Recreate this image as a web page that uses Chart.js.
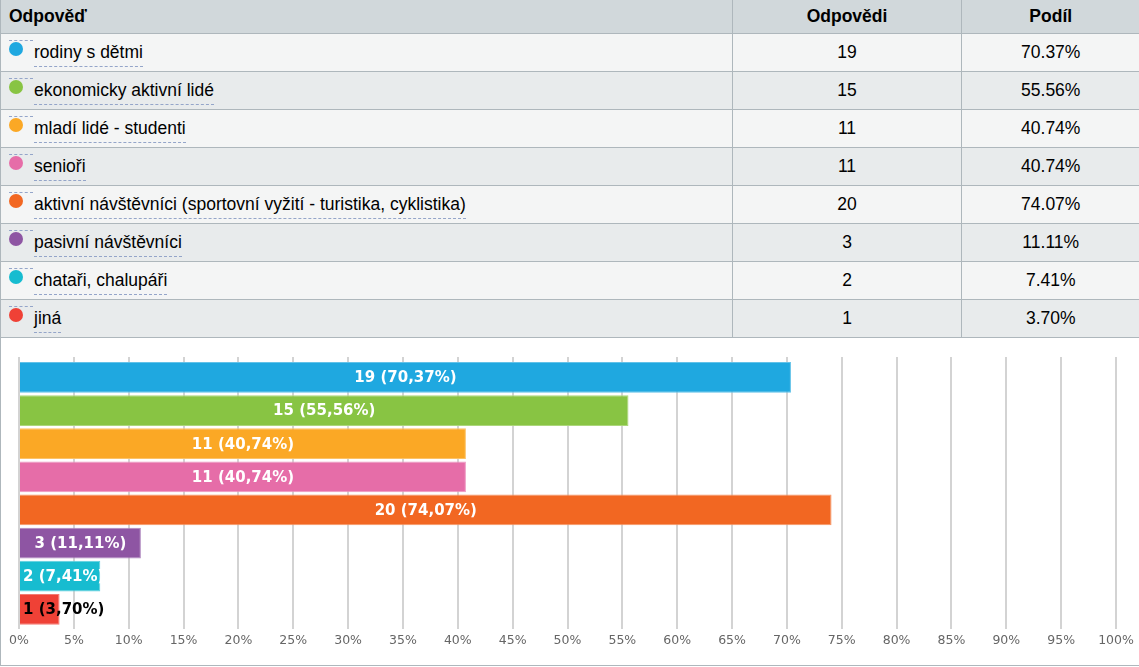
<!DOCTYPE html>
<html lang="cs">
<head>
<meta charset="utf-8">
<title>Odpovědi</title>
<script src="https://cdn.jsdelivr.net/npm/chart.js@4/dist/chart.umd.min.js"></script>
<style>
  body { margin: 0; background: #fff; font-family: "Liberation Sans", Arial, sans-serif; }
  #wrap { width: 1139px; overflow: hidden; }
  table { border-collapse: collapse; width: 1139px; table-layout: fixed; font-size: 17.5px; color: #000; }
  th, td { border: 1px solid #aeb7bc; padding: 0 8px; box-sizing: border-box; }
  th { background: #d1d8db; height: 33px; font-weight: bold; border-top: none; text-align: center; }
  th:first-child { text-align: left; }
  td { height: 38px; text-align: center; position: relative; }
  tbody tr:nth-child(odd) td { background: #f4f5f5; }
  tbody tr:nth-child(even) td { background: #e8ebec; }
  th:last-child, td:last-child { border-right: none; }
  td.name { text-align: left; padding-left: 33px; }
  .dot { position: absolute; left: 8px; top: 8px; width: 14px; height: 14px; border-radius: 50%; }
  .dash { position: absolute; left: 8px; top: 6px; width: 24px; border-top: 1px dashed #94a5c9; }
  .txt { border-bottom: 1px dashed #94a5c9; padding-bottom: 4px; }
  #chartBox { position: relative; height: 327px; border-left: 1px solid #aeb7bc; border-bottom: 1px solid #aeb7bc; }
</style>
</head>
<body>
<div id="wrap">
  <table>
    <colgroup><col style="width:732px"><col style="width:229px"><col style="width:178px"></colgroup>
    <thead><tr><th>Odpověď</th><th>Odpovědi</th><th>Podíl</th></tr></thead>
    <tbody id="rows"></tbody>
  </table>
  <div id="chartBox"><canvas id="answerChart"></canvas></div>
</div>
<script>
const categories = [
  "rodiny s dětmi",
  "ekonomicky aktivní lidé",
  "mladí lidé - studenti",
  "senioři",
  "aktivní návštěvníci (sportovní vyžití - turistika, cyklistika)",
  "pasivní návštěvníci",
  "chataři, chalupáři",
  "jiná",
];
const counts = [19, 15, 11, 11, 20, 3, 2, 1];
const shares = [70.37, 55.56, 40.74, 40.74, 74.07, 11.11, 7.41, 3.70];
const xTicks = [0, 5, 10, 15, 20, 25, 30, 35, 40, 45, 50, 55, 60, 65, 70, 75, 80, 85, 90, 95, 100];
const colors = ["#1fa8e0", "#88c443", "#fba825", "#e66da8", "#f26722", "#8e55a3", "#17bcd0", "#ef4136"];

// lighter edge for the bars
const lighten = (hex, k) => {
  const n = parseInt(hex.slice(1), 16);
  const c = [n >> 16, (n >> 8) & 255, n & 255].map((v) => Math.round(v + (255 - v) * k));
  return `rgb(${c.join(",")})`;
};

document.addEventListener("DOMContentLoaded", () => {
  // table
  const tbody = document.getElementById("rows");
  categories.forEach((name, i) => {
    const tr = document.createElement("tr");
    tr.innerHTML =
      `<td class="name"><span class="dash"></span><span class="dot" style="background:${colors[i]}"></span>` +
      `<span class="txt">${name}</span></td>` +
      `<td>${counts[i]}</td><td>${shares[i].toFixed(2)}%</td>`;
    tbody.appendChild(tr);
  });

  // value labels on bars
  const barLabels = {
    id: "barLabels",
    afterDatasetsDraw(chart) {
      const { ctx } = chart;
      const meta = chart.getDatasetMeta(0);
      ctx.save();
      ctx.font = 'bold 15px "DejaVu Sans"';
      ctx.textBaseline = "middle";
      meta.data.forEach((bar, i) => {
        const text = `${counts[i]} (${shares[i].toFixed(2).replace(".", ",")}%)`;
        const w = ctx.measureText(text).width;
        const barW = bar.x - bar.base;
        if (w + 10 <= barW) {
          ctx.textAlign = "center";
          ctx.fillStyle = "#fff";
          ctx.fillText(text, (bar.x + bar.base) / 2, bar.y + 1);
        } else {
          ctx.textAlign = "left";
          ctx.fillStyle = barW > w * 0.9 ? "#fff" : "#000";
          ctx.fillText(text, bar.base + 3, bar.y + 1);
        }
      });
      ctx.restore();
    },
  };

  const scaleCommon = {
    min: 0,
    max: 100,
    afterBuildTicks: (axis) => {
      axis.ticks = xTicks.map((v) => ({ value: v }));
    },
  };

  new Chart(document.getElementById("answerChart"), {
    type: "bar",
    data: {
      labels: categories,
      datasets: [
        {
          data: shares,
          backgroundColor: colors,
          borderColor: colors.map((c) => lighten(c, 0.3)),
          borderWidth: 1,
          barPercentage: 0.93,
          categoryPercentage: 1,
        },
      ],
    },
    options: {
      indexAxis: "y",
      responsive: true,
      maintainAspectRatio: false,
      animation: false,
      layout: { padding: { left: 18, right: 23, top: 18.9, bottom: 12.1 } },
      plugins: { legend: { display: false }, tooltip: { enabled: false } },
      scales: {
        x: {
          ...scaleCommon,
          position: "bottom",
          border: { display: false },
          grid: { color: "#d3d3d3", lineWidth: 2, tickLength: 3 },
          ticks: {
            autoSkip: false,
            maxRotation: 0,
            padding: 4.5,
            color: "#666",
            font: { family: "DejaVu Sans", size: 12.5 },
            callback: (v) => v + "%",
          },
        },
        x2: {
          ...scaleCommon,
          type: "linear",
          position: "top",
          axis: "x",
          border: { display: false },
          grid: { color: "#d3d3d3", lineWidth: 2, tickLength: 4, drawOnChartArea: false },
          ticks: { display: false },
        },
        y: { display: false },
      },
    },
    plugins: [barLabels],
  });
});
</script>
</body>
</html>
